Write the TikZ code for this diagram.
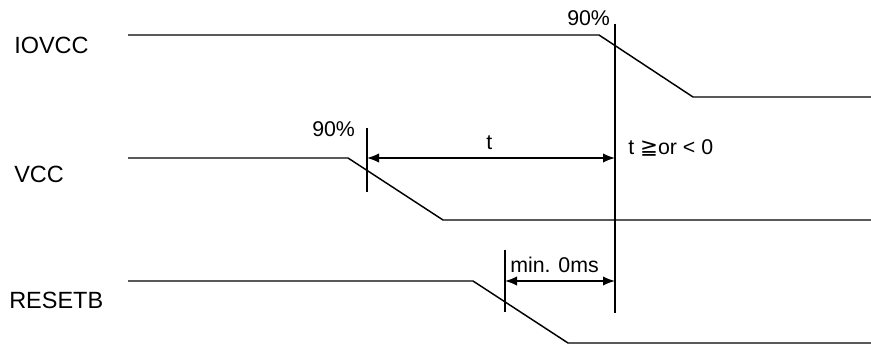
\documentclass[tikz,border=0pt]{standalone}
\usepackage{fontspec}
\setmainfont{Liberation Sans}
\newfontfamily\symfont{DejaVu Sans}
\usetikzlibrary{arrows.meta}

\begin{document}
\begin{tikzpicture}[x=0.75pt, y=-0.75pt,
	wave/.style={line width=1.1pt, line join=miter},
	marker/.style={line width=1.1pt},
	sig/.style={font=\fontsize{17.6}{20}\selectfont, inner sep=0pt, anchor=base west},
	note/.style={font=\fontsize{16}{19}\selectfont, inner sep=0pt, anchor=base west},
	span/.style={<->, line width=1.1pt, >={Latex[length=9pt, width=7pt]}}]
	\def \xstart {128}
	\def \xend {871}
	\def \xref {615}

	\useasboundingbox (0,0) rectangle (871,345);

	% signal names
	\node[sig] (iovcc)  at (14,54)  {IOVCC};
	\node[sig] (vcc)    at (14,183) {VCC};
	\node[sig] (resetb) at (9,309)  {RESETB};

	% IOVCC falls
	\coordinate (io0) at (\xstart,35);
	\coordinate (io1) at (599,35);
	\coordinate (io2) at (693,97);
	\coordinate (io3) at (\xend,97);
	\draw[wave] (io0) -- (io1) -- (io2) -- (io3);

	% VCC falls
	\coordinate (vc0) at (\xstart,158);
	\coordinate (vc1) at (348,158);
	\coordinate (vc2) at (443,220);
	\coordinate (vc3) at (\xend,220);
	\draw[wave] (vc0) -- (vc1) -- (vc2) -- (vc3);

	% RESETB falls
	\coordinate (rs0) at (\xstart,281);
	\coordinate (rs1) at (473,281);
	\coordinate (rs2) at (568,343);
	\coordinate (rs3) at (\xend,343);
	\draw[wave] (rs0) -- (rs1) -- (rs2) -- (rs3);

	% reference line at IOVCC 90%
	\coordinate (reftop) at (\xref,24);
	\coordinate (refbot) at (\xref,313);
	\coordinate (refvcc) at (\xref,158);
	\coordinate (refrst) at (\xref,281);
	\draw[marker] (reftop) -- (refbot);

	% VCC 90% tick
	\coordinate (vtop) at (367,128);
	\coordinate (vbot) at (367,192);
	\coordinate (vmid) at (367,158);
	\draw[marker] (vtop) -- (vbot);

	% RESETB tick
	\coordinate (rtop) at (505,250);
	\coordinate (rbot) at (505,312);
	\coordinate (rmid) at (505,281);
	\draw[marker] (rtop) -- (rbot);

	% spans
	\draw[span] (vmid) -- (refvcc);
	\draw[span] (rmid) -- (refrst);

	% annotations
	\node[note] (iolevel)  at (567,26)    {90\%};
	\node[note] (vclevel)  at (312,136.5) {90\%};
	\node[note] (tlabel)   at (486,150)   {t};
	\node[note] (tcond)    at (628,155)   {t {\symfont ≧}or < 0};
	\node[note] (minlabel) at (510,273)   {min. 0ms};
\end{tikzpicture}
\end{document}
